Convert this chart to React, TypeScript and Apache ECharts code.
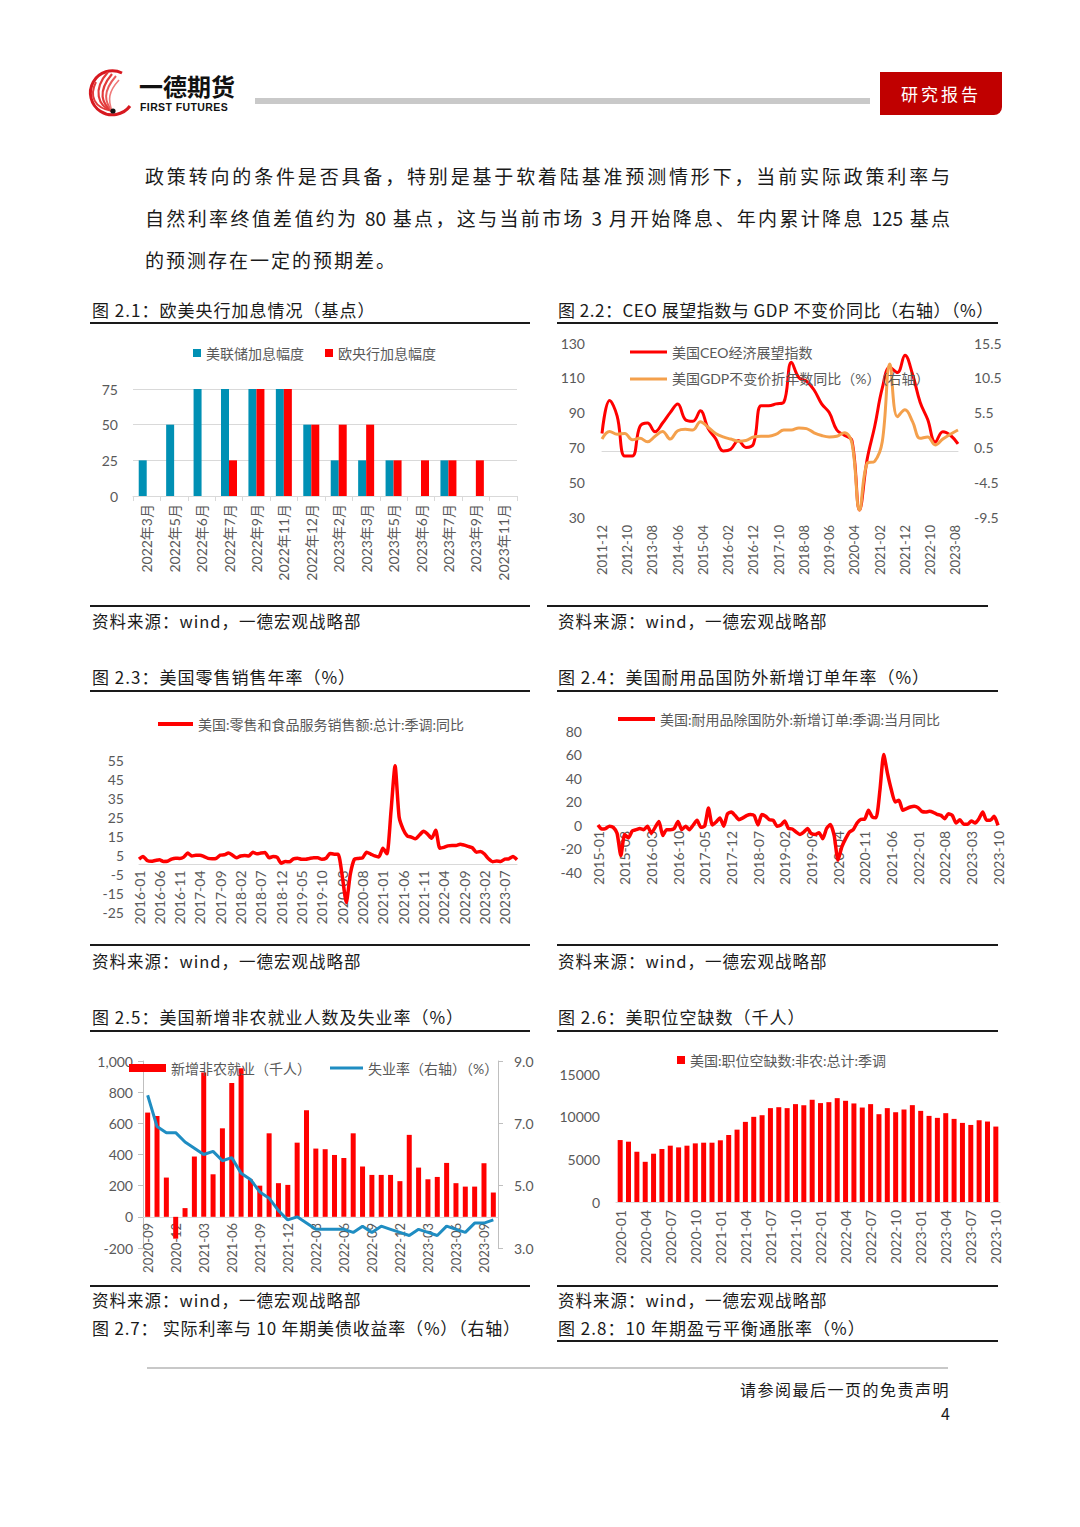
import React, { useEffect, useRef } from 'react';
import * as echarts from 'echarts';

const FONT = "Lato, 'Noto Sans CJK SC', sans-serif";
const PAGE_FONT = "'Noto Sans CJK SC', sans-serif";
const GREY_TEXT = '#595959';
const AXIS_LINE = '#d9d9d9';
const RED = '#FF0000';

function months(y: number, m: number, n: number): string[] {
  const out: string[] = [];
  for (let i = 0; i < n; i++) {
    const t = m - 1 + i;
    const yy = y + Math.floor(t / 12);
    const mm = (t % 12) + 1;
    out.push(`${yy}-${String(mm).padStart(2, '0')}`);
  }
  return out;
}

// ---------- 图 2.1 ----------
const rateCats = ['2022年3月', '2022年5月', '2022年6月', '2022年7月', '2022年9月', '2022年11月', '2022年12月', '2023年2月', '2023年3月', '2023年5月', '2023年6月', '2023年7月', '2023年9月', '2023年11月'];
const fedHikes = [25, 50, 75, 75, 75, 75, 50, 25, 25, 25, null, 25, null, null];
const ecbHikes = [null, null, null, 25, 75, 75, 50, 50, 50, 25, 25, 25, 25, null];

// ---------- 图 2.2 ----------
const ceoMonths = months(2011, 12, 142);
const ceoQuarters = ceoMonths.filter((_, i) => i % 3 === 0);
const ceoIndex = [78, 97, 88, 65, 65, 82, 84, 79, 84, 90, 95, 86, 85, 91, 81, 75, 68, 69, 74, 70, 72, 94, 94, 95, 96, 119, 110, 108, 103, 95, 90, 80, 77, 74, 34, 63, 82, 104, 116, 113, 123, 112, 96, 86, 73, 79, 77, 72];
const gdpYoY = [1.7, 2.8, 2.4, 2.5, 1.6, 1.8, 1.3, 2.1, 2.8, 1.7, 2.9, 3.1, 3.0, 4.2, 3.4, 2.5, 2.0, 1.7, 1.4, 1.5, 2.0, 2.1, 2.1, 2.4, 3.0, 3.0, 3.3, 3.2, 2.6, 2.2, 2.0, 2.1, 2.6, 1.1, -8.5, -1.8, -1.5, 1.3, 12.5, 4.9, 5.9, 4.2, 1.8, 2.0, 0.85, 1.7, 2.4, 3.0];
const gdpTicks = [-9.5, -4.5, 0.5, 5.5, 10.5, 15.5];

// ---------- 图 2.3 ----------
const retailMonths = months(2016, 1, 94);
const retailYoY = [
  2.8, 4.2, 2.1, 1.7, 2.1, 2.5, 1.6, 1.7, 2.8, 3.3, 3.2, 3.9,
  6.0, 4.5, 4.9, 4.9, 4.2, 3.2, 3.0, 3.2, 4.9, 5.1, 6.0, 4.9,
  3.5, 4.5, 4.7, 4.5, 6.5, 5.6, 6.0, 6.3, 3.5, 4.2, 3.7, 0.7,
  1.6, 1.4, 3.0, 3.3, 2.8, 2.8, 3.2, 3.5, 3.5, 2.8, 3.3, 5.8,
  5.4, 5.4, -6, -20, -5, 2.8, 3.2, 3.5, 6.5, 5.5, 4.5, 4.0,
  8.5, 5.6, 28, 52, 25, 18.5, 15, 14.4, 13.5, 15.5, 17.5, 16,
  13.8, 18, 8.6, 9, 9.8, 10, 10, 10.7, 10.2, 9.5, 8.8, 6.5,
  6.8, 5.5, 3.0, 1.5, 1.8, 1.6, 2.8, 3.0, 4.2, 2.5,
];
const retailTicks = [-25, -15, -5, 5, 15, 25, 35, 45, 55];

// ---------- 图 2.4 ----------
const durableMonths = months(2015, 1, 106);
const durableYoY = [
  0, -3.5, -3, -1, -2, -7, -26, -8, -11, -5, -4, -3,
  -4, -1, -7, -2, 3, -9, -4, -4, -3, 3, -4, -1,
  -4, 0, 4, -2, -1, 14.5, 0, 2.5, 6, -1, 9.6, 11,
  8, 4.5, 6, 8, 9, 8, 0, 9, 7.4, 4.5, 4, -1,
  0, 3.4, -3, -3.4, -6, -8, -6, -3, -7.4, -8, -6.5, -11.6,
  -3, 0.5, -9, -30, -18.7, -11.6, -6, -4, 1.7, 4.8, 5, 12.5,
  6.8, 6.2, 29.5, 60, 43.7, 30, 19.6, 21, 12.5, 14, 15.3, 16,
  14.8, 11.6, 11, 11.6, 10.8, 9, 8.2, 5.4, 9.6, 8.2, 1.7, 4.5,
  0.6, 0.6, 3.4, 1.7, 5.4, 11, 4, 4, 7.4, -0.3,
];

// ---------- 图 2.5 ----------
const payrollMonths = months(2020, 9, 38);
const payrolls = [669, 647, 252, -140, 56, 387, 927, 273, 568, 859, 953, 240, 200, 536, 216, 205, 476, 684, 438, 434, 397, 378, 536, 323, 269, 269, 269, 229, 526, 316, 241, 256, 346, 216, 194, 194, 344, 156];
const unemployment = [7.9, 6.9, 6.7, 6.7, 6.4, 6.2, 6.0, 6.1, 5.8, 5.9, 5.4, 5.2, 4.8, 4.6, 4.2, 3.9, 4.0, 3.8, 3.6, 3.6, 3.6, 3.6, 3.5, 3.7, 3.5, 3.7, 3.6, 3.5, 3.4, 3.6, 3.5, 3.4, 3.7, 3.6, 3.5, 3.8, 3.8, 3.9];
const unempTicks = [3, 5, 7, 9];

// ---------- 图 2.6 ----------
const openingMonths = months(2020, 1, 46);
const jobOpenings = [
  7260, 7070, 5890, 4710, 5660, 6210, 6600, 6400, 6600, 6870, 6950, 6950,
  7230, 7850, 8480, 9390, 9980, 10170, 11000, 11110, 11000, 11470, 11350, 11980,
  11590, 11700, 12170, 11860, 11550, 11070, 11470, 10290, 11000, 10520, 10840, 11350,
  10680, 10090, 9860, 10410, 9740, 9270, 9030, 9580, 9430, 8840,
];

// ---------- page texts ----------
const bodyLines = [
  '政策转向的条件是否具备，特别是基于软着陆基准预测情形下，当前实际政策利率与',
  '自然利率终值差值约为 80 基点，这与当前市场 3 月开始降息、年内累计降息 125 基点',
  '的预测存在一定的预期差。',
];
const SOURCE = '资料来源：wind，一德宏观战略部';

const axisLabelBase = { color: GREY_TEXT, fontFamily: FONT };
const legendText = { color: GREY_TEXT, fontSize: 14, fontFamily: FONT };

const opt21 = {
  animation: false,
  textStyle: { fontFamily: FONT },
  legend: {
    left: 98, top: 6, icon: 'rect', itemWidth: 8, itemHeight: 8, itemGap: 21,
    textStyle: legendText,
    data: ['美联储加息幅度', '欧央行加息幅度'],
  },
  grid: { left: 43, right: 13, top: 54, bottom: 99, outerBoundsMode: 'none' },
  xAxis: {
    type: 'category', data: rateCats,
    axisLine: { lineStyle: { color: AXIS_LINE } },
    axisTick: { show: true, length: 5, lineStyle: { color: AXIS_LINE } },
    axisLabel: { ...axisLabelBase, rotate: 90, fontSize: 14, interval: 0, margin: 8 },
  },
  yAxis: {
    type: 'value', min: 0, max: 75, interval: 25,
    axisLine: { show: false }, axisTick: { show: false },
    axisLabel: { ...axisLabelBase, fontSize: 14, margin: 15 },
    splitLine: { lineStyle: { color: AXIS_LINE } },
  },
  series: [
    { name: '美联储加息幅度', type: 'bar', data: fedHikes, barWidth: 8, barGap: '0%', itemStyle: { color: '#0090B4' } },
    { name: '欧央行加息幅度', type: 'bar', data: ecbHikes, barWidth: 8, barGap: '0%', itemStyle: { color: RED } },
  ],
};

const opt22 = {
  animation: false,
  textStyle: { fontFamily: FONT },
  legend: {
    orient: 'vertical', left: 75, top: 10, icon: 'rect', itemWidth: 37, itemHeight: 3, itemGap: 13,
    textStyle: legendText,
    data: ['美国CEO经济展望指数', '美国GDP不变价折年数同比（%）（右轴）'],
  },
  grid: { left: 52, right: 52, top: 13, bottom: 78, outerBoundsMode: 'none' },
  xAxis: {
    type: 'category', data: ceoMonths, boundaryGap: false,
    axisLine: { lineStyle: { color: AXIS_LINE } },
    axisTick: { show: false },
    axisLabel: { ...axisLabelBase, rotate: 90, fontSize: 13, interval: 9, margin: 8 },
  },
  yAxis: [
    {
      type: 'value', min: 30, max: 130, interval: 20,
      axisLine: { show: false }, axisTick: { show: false }, splitLine: { show: false },
      axisLabel: { ...axisLabelBase, fontSize: 14, margin: 17 },
    },
    {
      type: 'value', min: -9.5, max: 15.5, position: 'right',
      axisLine: { show: false }, axisTick: { show: false }, splitLine: { show: false },
      axisLabel: { ...axisLabelBase, fontSize: 14, margin: 16, customValues: gdpTicks, formatter: (v: number) => v.toFixed(1) },
    },
  ],
  series: [
    {
      name: '美国CEO经济展望指数', type: 'line', smooth: 0.4, showSymbol: false,
      data: ceoQuarters.map((d, i) => [d, ceoIndex[i]]),
      lineStyle: { width: 3, color: RED }, itemStyle: { color: RED },
    },
    {
      name: '美国GDP不变价折年数同比（%）（右轴）', type: 'line', yAxisIndex: 1, smooth: 0.4, showSymbol: false,
      data: ceoQuarters.map((d, i) => [d, gdpYoY[i]]),
      lineStyle: { width: 3, color: '#F4A04C' }, itemStyle: { color: '#F4A04C' },
    },
  ],
};

// grid heights used to lift the category axis onto the zero line
const g23 = { top: 60, bottom: 28, height: 240 };
const g24 = { top: 31, bottom: 28, height: 200 };
const g25 = { top: 16, bottom: 37, height: 240 };
const lift = (g: any, below: number, span: number) => -((g.height - g.top - g.bottom) * below) / span;

const opt23 = {
  animation: false,
  textStyle: { fontFamily: FONT },
  legend: {
    left: 63, top: 12, icon: 'rect', itemWidth: 35, itemHeight: 4,
    textStyle: legendText,
    data: ['美国:零售和食品服务销售额:总计:季调:同比'],
  },
  grid: { left: 49, right: 13, top: g23.top, bottom: g23.bottom, outerBoundsMode: 'none' },
  xAxis: {
    type: 'category', data: retailMonths, boundaryGap: false,
    offset: lift(g23, 25, 80),
    axisLine: { onZero: false, lineStyle: { color: AXIS_LINE } },
    axisTick: { show: false },
    axisLabel: { ...axisLabelBase, rotate: 90, fontSize: 14, interval: 4, margin: 6 },
  },
  yAxis: {
    type: 'value', min: -25, max: 55,
    axisLine: { show: false }, axisTick: { show: false }, splitLine: { show: false },
    axisLabel: { ...axisLabelBase, fontSize: 14, margin: 15, customValues: retailTicks },
  },
  series: [
    {
      name: '美国:零售和食品服务销售额:总计:季调:同比', type: 'line', showSymbol: false, smooth: 0.2,
      data: retailYoY, lineStyle: { width: 3.5, color: RED }, itemStyle: { color: RED },
    },
  ],
};

const opt24 = {
  animation: false,
  textStyle: { fontFamily: FONT },
  legend: {
    left: 63, top: 7, icon: 'rect', itemWidth: 37, itemHeight: 4,
    textStyle: legendText,
    data: ['美国:耐用品除国防外:新增订单:季调:当月同比'],
  },
  grid: { left: 48, right: 12, top: g24.top, bottom: g24.bottom, outerBoundsMode: 'none' },
  xAxis: {
    type: 'category', data: durableMonths, boundaryGap: false,
    offset: lift(g24, 40, 120),
    axisLine: { onZero: false, lineStyle: { color: AXIS_LINE } },
    axisTick: { show: false },
    axisLabel: { ...axisLabelBase, rotate: 90, fontSize: 14, interval: 6, margin: 6 },
  },
  yAxis: {
    type: 'value', min: -40, max: 80, interval: 20,
    axisLine: { show: false }, axisTick: { show: false }, splitLine: { show: false },
    axisLabel: { ...axisLabelBase, fontSize: 14, margin: 16 },
  },
  series: [
    {
      name: '美国:耐用品除国防外:新增订单:季调:当月同比', type: 'line', showSymbol: false, smooth: 0.2,
      data: durableYoY, lineStyle: { width: 3.5, color: RED }, itemStyle: { color: RED },
    },
  ],
};

const opt25 = {
  animation: false,
  textStyle: { fontFamily: FONT },
  legend: [
    {
      left: 34, top: 11, icon: 'rect', itemWidth: 37, itemHeight: 8,
      textStyle: legendText,
      data: ['新增非农就业（千人）'],
    },
    {
      left: 235, top: 11, icon: 'rect', itemWidth: 33, itemHeight: 3,
      textStyle: legendText,
      data: ['失业率（右轴）（%）'],
    },
  ],
  grid: { left: 53, right: 52, top: g25.top, bottom: g25.bottom, outerBoundsMode: 'none' },
  xAxis: {
    type: 'category', data: payrollMonths,
    offset: lift(g25, 200, 1200),
    axisLine: { onZero: false, lineStyle: { color: AXIS_LINE } },
    axisTick: { show: false },
    axisLabel: { ...axisLabelBase, rotate: 90, fontSize: 13, interval: 2, margin: 6 },
  },
  yAxis: [
    {
      type: 'value', min: -200, max: 1000, interval: 200,
      axisLine: { show: true, lineStyle: { color: '#bfbfbf' } },
      axisTick: { show: true, length: 5, lineStyle: { color: '#bfbfbf' } },
      splitLine: { show: false },
      axisLabel: { ...axisLabelBase, fontSize: 14, margin: 10, formatter: (v: number) => v.toLocaleString('en-US') },
    },
    {
      type: 'value', min: 3, max: 9, position: 'right',
      axisLine: { show: true, lineStyle: { color: '#bfbfbf' } },
      axisTick: { show: true, length: 5, customValues: unempTicks, lineStyle: { color: '#bfbfbf' } },
      splitLine: { show: false },
      axisLabel: { ...axisLabelBase, fontSize: 14, margin: 16, customValues: unempTicks, formatter: (v: number) => v.toFixed(1) },
    },
  ],
  series: [
    { name: '新增非农就业（千人）', type: 'bar', data: payrolls, barWidth: 5, itemStyle: { color: RED } },
    {
      name: '失业率（右轴）（%）', type: 'line', yAxisIndex: 1, showSymbol: false,
      data: unemployment, lineStyle: { width: 3, color: '#1F8DC2' }, itemStyle: { color: '#1F8DC2' },
    },
  ],
};

const opt26 = {
  animation: false,
  textStyle: { fontFamily: FONT },
  legend: {
    left: 122, top: 3, icon: 'rect', itemWidth: 8, itemHeight: 8,
    textStyle: legendText,
    data: ['美国:职位空缺数:非农:总计:季调'],
  },
  grid: { left: 66, right: 10, top: 29, bottom: 73, outerBoundsMode: 'none' },
  xAxis: {
    type: 'category', data: openingMonths,
    axisLine: { lineStyle: { color: AXIS_LINE } },
    axisTick: { show: false },
    axisLabel: { ...axisLabelBase, rotate: 90, fontSize: 14, interval: 2, margin: 8 },
  },
  yAxis: {
    type: 'value', min: 0, max: 15000, interval: 5000,
    axisLine: { show: false }, axisTick: { show: false }, splitLine: { show: false },
    axisLabel: { ...axisLabelBase, fontSize: 14, margin: 16, formatter: (v: number) => String(v) },
  },
  series: [
    { name: '美国:职位空缺数:非农:总计:季调', type: 'bar', data: jobOpenings, barWidth: 5, itemStyle: { color: RED } },
  ],
};

function Chart({ option, left, top, width, height }: any) {
  const ref = useRef<HTMLDivElement>(null);
  useEffect(() => {
    const chart = echarts.init(ref.current as HTMLDivElement, null, { renderer: 'svg' });
    chart.setOption(option);
    return () => chart.dispose();
  }, []);
  return <div ref={ref} style={{ position: 'absolute', left, top, width, height }} />;
}

function Txt({ x, y, children, size = 17, ls = 1, align = 'left', w, weight = 400, color = '#1a1a1a', family = PAGE_FONT }: any) {
  const lh = Math.round(size * 1.15);
  const style: any = {
    position: 'absolute', top: y - lh / 2, fontSize: size, lineHeight: `${lh}px`,
    letterSpacing: ls, whiteSpace: 'nowrap', fontWeight: weight, color, fontFamily: family,
  };
  if (align === 'right') { style.right = 1080 - x; } else { style.left = x; }
  if (w) style.width = w;
  return <div style={style}>{children}</div>;
}

function HLine({ x1, x2, y, h = 2.5, color = '#1a1a1a' }: any) {
  return <div style={{ position: 'absolute', left: x1, top: y - h / 2, width: x2 - x1, height: h, background: color }} />;
}

function Logo() {
  return (
    <svg style={{ position: 'absolute', left: 86, top: 66 }} width="50" height="52" viewBox="0 0 50 52">
      <path d="M 36 7 A 22 22 0 1 0 44 40" fill="none" stroke="#d71920" strokeWidth="3" />
      <path d="M 26 45 C 12 40, 6 24, 22 6" fill="none" stroke="#e23a3a" strokeWidth="2.2" />
      <path d="M 26 45 C 16 38, 11 26, 26 8" fill="none" stroke="#e23a3a" strokeWidth="2.2" />
      <path d="M 26 45 C 19 36, 16 26, 30 10" fill="none" stroke="#e85a5a" strokeWidth="2" />
      <path d="M 26 45 C 8 42, 3 30, 10 16" fill="none" stroke="#e23a3a" strokeWidth="2" />
      <path d="M 26 45 C 22 34, 22 26, 33 14" fill="none" stroke="#ef7a7a" strokeWidth="1.6" />
      <circle cx="27" cy="45" r="2.6" fill="#111" />
    </svg>
  );
}

export default function App() {
  useEffect(() => {
    document.body.style.margin = '0';
  }, []);
  const bodyStyle: any = {
    position: 'absolute', left: 145, width: 805, height: 42, fontSize: 19, lineHeight: '42px',
    fontFamily: PAGE_FONT, color: '#1a1a1a', letterSpacing: 0, overflow: 'visible',
  };
  const justified: any = { textAlign: 'justify', textAlignLast: 'justify', textJustify: 'inter-character', whiteSpace: 'nowrap' };
  return (
    <div style={{ position: 'absolute', left: 0, top: 0, width: 1080, height: 1527, background: '#fff', overflow: 'hidden' }}>
      {/* header */}
      <Logo />
      <Txt x={139} y={86} size={24} ls={0} weight={700} color="#111">一德期货</Txt>
      <Txt x={140} y={107} size={10.5} ls={0.4} weight={700} color="#111" family="'Liberation Sans', Arial, sans-serif">FIRST FUTURES</Txt>
      <div style={{ position: 'absolute', left: 255, top: 98, width: 615, height: 6, background: '#c9c9c9' }} />
      <div style={{
        position: 'absolute', left: 880, top: 72, width: 122, height: 43, background: '#C00000',
        borderRadius: '0 0 8px 0', color: '#fff', fontSize: 17, lineHeight: '43px', textAlign: 'center',
        letterSpacing: 3, fontFamily: PAGE_FONT,
      }}>研究报告</div>

      {/* body */}
      <div style={{ ...bodyStyle, ...justified, top: 155 }}>{bodyLines[0]}</div>
      <div style={{ ...bodyStyle, ...justified, top: 197 }}>{bodyLines[1]}</div>
      <div style={{ ...bodyStyle, top: 239, letterSpacing: 2, whiteSpace: 'nowrap' }}>{bodyLines[2]}</div>

      {/* row 1 */}
      <Txt x={92} y={310}>图 2.1：欧美央行加息情况（基点）</Txt>
      <Txt x={558} y={310} ls={0.5}>图 2.2：CEO 展望指数与 GDP 不变价同比（右轴）（%）</Txt>
      <HLine x1={90} x2={530} y={323} />
      <HLine x1={557} x2={998} y={323} />
      <Chart option={opt21} left={90} top={335} width={440} height={260} />
      <Chart option={opt22} left={550} top={330} width={460} height={265} />
      <HLine x1={90} x2={530} y={606} />
      <HLine x1={547} x2={988} y={606} />
      <Txt x={92} y={621} size={16.5}>{SOURCE}</Txt>
      <Txt x={558} y={621} size={16.5}>{SOURCE}</Txt>

      {/* row 2 */}
      <Txt x={92} y={677}>图 2.3：美国零售销售年率（%）</Txt>
      <Txt x={558} y={677}>图 2.4：美国耐用品国防外新增订单年率（%）</Txt>
      <HLine x1={90} x2={530} y={691} />
      <HLine x1={557} x2={998} y={691} />
      <Chart option={opt23} left={90} top={700} width={440} height={g23.height} />
      <Chart option={opt24} left={550} top={700} width={460} height={g24.height} />
      <HLine x1={90} x2={530} y={945} />
      <HLine x1={557} x2={998} y={945} />
      <Txt x={92} y={961} size={16.5}>{SOURCE}</Txt>
      <Txt x={558} y={961} size={16.5}>{SOURCE}</Txt>

      {/* row 3 */}
      <Txt x={92} y={1017}>图 2.5：美国新增非农就业人数及失业率（%）</Txt>
      <Txt x={558} y={1017}>图 2.6：美职位空缺数（千人）</Txt>
      <HLine x1={90} x2={530} y={1031} />
      <HLine x1={557} x2={998} y={1031} />
      <Chart option={opt25} left={90} top={1045} width={460} height={g25.height} />
      <Chart option={opt26} left={550} top={1045} width={460} height={230} />
      <HLine x1={90} x2={530} y={1286} />
      <HLine x1={557} x2={998} y={1286} />
      <Txt x={92} y={1300} size={16.5}>{SOURCE}</Txt>
      <Txt x={558} y={1300} size={16.5}>{SOURCE}</Txt>

      {/* row 4 titles */}
      <Txt x={92} y={1328} ls={0.8}>图 2.7： 实际利率与 10 年期美债收益率（%）（右轴）</Txt>
      <Txt x={558} y={1328}>图 2.8：10 年期盈亏平衡通胀率（%）</Txt>
      <HLine x1={557} x2={998} y={1341} />

      {/* footer */}
      <HLine x1={147} x2={948} y={1368} h={2} color="#c8c8c8" />
      <Txt x={950} y={1389} size={16} ls={1.5} align="right">请参阅最后一页的免责声明</Txt>
      <Txt x={950} y={1413} size={16} ls={0} align="right">4</Txt>
    </div>
  );
}
